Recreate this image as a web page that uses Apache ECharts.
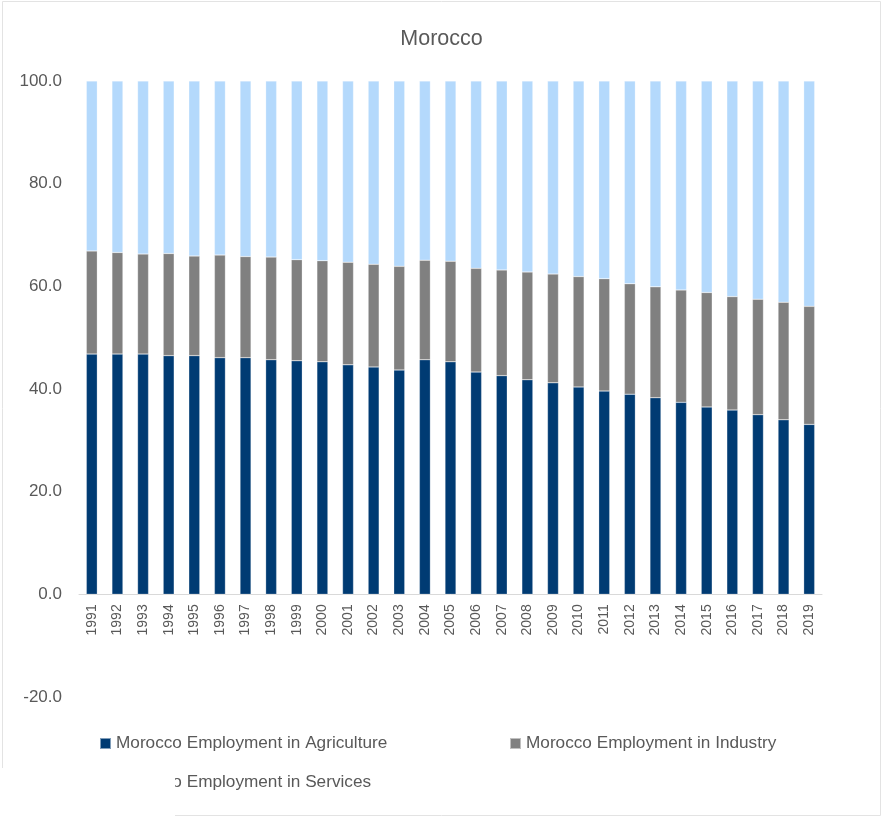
<!DOCTYPE html>
<html>
<head>
<meta charset="utf-8">
<script src="https://cdn.jsdelivr.net/npm/echarts@6/dist/echarts.min.js"></script>
<style>html,body{margin:0;padding:0;background:#fff;}#c{width:883px;height:817px;}</style>
</head>
<body>
<div id="c"></div>
<script>
const years = ['1991','1992','1993','1994','1995','1996','1997','1998','1999','2000','2001','2002','2003','2004','2005','2006','2007','2008','2009','2010','2011','2012','2013','2014','2015','2016','2017','2018','2019'];
const agriculture = [46.8,46.8,46.8,46.5,46.5,46.1,46.1,45.7,45.5,45.3,44.7,44.3,43.7,45.7,45.3,43.3,42.6,41.8,41.2,40.4,39.6,39.0,38.3,37.4,36.5,35.9,35.0,34.0,33.1];
const industry = [20.1,19.8,19.5,19.9,19.4,20.0,19.7,20.0,19.7,19.7,20.0,20.0,20.2,19.4,19.6,20.2,20.6,21.0,21.2,21.5,21.9,21.5,21.6,21.9,22.3,22.1,22.5,22.9,23.0];
const services = [33.1,33.4,33.7,33.6,34.1,33.9,34.2,34.3,34.8,35.0,35.3,35.7,36.1,34.9,35.1,36.5,36.8,37.2,37.6,38.1,38.5,39.5,40.1,40.7,41.2,42.0,42.5,43.1,43.9];
const yTicks = {min: -20, max: 100, interval: 20};
const names = ['Morocco Employment in Agriculture','Morocco Employment in Industry','Morocco Employment in Services'];

const chart = echarts.init(document.getElementById('c'), null, {renderer: 'canvas'});
const font = '"Liberation Sans", Arial, sans-serif';
const legendText = {color: '#595959', fontSize: 17.2, fontFamily: font};
const gridTop = 81, gridBottomPx = 697;
// distance from grid bottom (-20) up to zero line, in px
const zeroOffset = (gridBottomPx - gridTop) * (0 - yTicks.min) / (yTicks.max - yTicks.min);
chart.setOption({
  animation: false,
  backgroundColor: '#ffffff',
  title: {text: 'Morocco', left: 'center', top: 23, textStyle: {color: '#595959', fontSize: 21.5, fontWeight: 'normal', fontFamily: font}},
  grid: {left: 79, right: 61, top: gridTop, bottom: 817 - gridBottomPx, containLabel: false, outerBoundsMode: 'none'},
  legend: [
    {data: [names[0]], left: 99, top: 735, padding: 0, icon: 'rect', itemWidth: 11, itemHeight: 11, itemGap: 4, textStyle: legendText},
    {data: [names[1]], left: 509, top: 735, padding: 0, icon: 'rect', itemWidth: 11, itemHeight: 11, itemGap: 4, textStyle: legendText},
    {data: [names[2]], left: 99, top: 774, padding: 0, icon: 'rect', itemWidth: 11, itemHeight: 11, itemGap: 4, textStyle: legendText}
  ],
  xAxis: {
    type: 'category', data: years, position: 'bottom', offset: -zeroOffset,
    axisLine: {onZero: false, lineStyle: {color: '#d9d9d9', width: 1}},
    axisTick: {show: false},
    axisLabel: {rotate: 90, color: '#595959', fontSize: 14, fontFamily: font, margin: 10, interval: 0}
  },
  yAxis: {
    type: 'value', min: yTicks.min, max: yTicks.max, interval: yTicks.interval,
    axisLine: {show: false}, axisTick: {show: false}, splitLine: {show: false},
    axisLabel: {color: '#595959', fontSize: 17, fontFamily: font, margin: 17, formatter: v => v.toFixed(1)}
  },
  series: [
    {name: names[0], type: 'bar', stack: 'total', data: agriculture, barWidth: 11, itemStyle: {color: '#003B73', borderColor: 'rgba(255,255,255,0.5)', borderWidth: 0.5}},
    {name: names[1], type: 'bar', stack: 'total', data: industry, barWidth: 11, itemStyle: {color: '#808080', borderColor: 'rgba(255,255,255,0.5)', borderWidth: 0.5}},
    {name: names[2], type: 'bar', stack: 'total', data: services, barWidth: 11, itemStyle: {color: '#B4D9FC', borderColor: 'rgba(255,255,255,0.5)', borderWidth: 0.5}}
  ],
  graphic: [
    {type: 'rect', z: 100, silent: true, shape: {x: 2.5, y: 1.5, width: 878, height: 814}, style: {fill: null, stroke: '#e3e3e3', lineWidth: 1}},
    {type: 'rect', z: 101, silent: true, shape: {x: 0, y: 768, width: 175, height: 49}, style: {fill: '#ffffff', stroke: null}}
  ]
});
</script>
</body>
</html>
